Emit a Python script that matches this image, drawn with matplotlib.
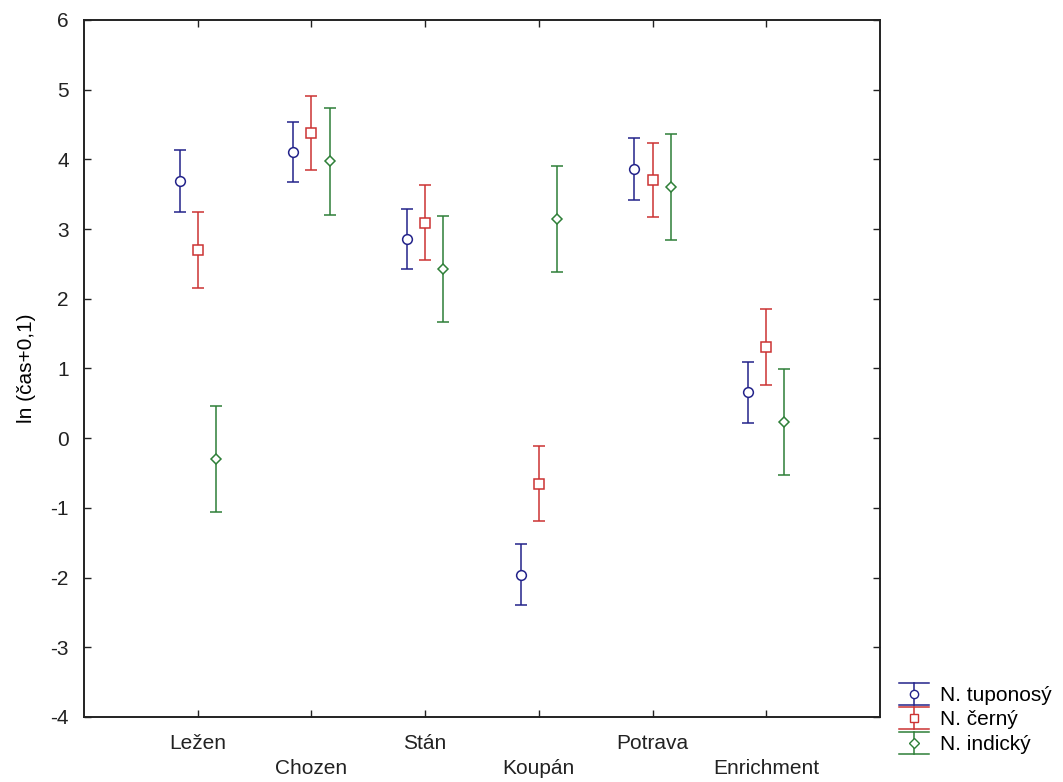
import matplotlib
matplotlib.use("Agg")
import matplotlib.pyplot as plt
from matplotlib.legend_handler import HandlerBase
from matplotlib.lines import Line2D
from matplotlib.transforms import ScaledTranslation
import numpy as np

plt.rcParams['font.family'] = ['Liberation Sans', 'DejaVu Sans']
plt.rcParams['axes.unicode_minus'] = False

categories = ["Ležen", "Chozen", "Stán", "Koupán", "Potrava", "Enrichment"]
series_names = ["N. tuponosý", "N. černý", "N. indický"]

# means of ln(time + 0.1) and half-widths of the confidence intervals
mean_tuponosy = [3.69, 4.11, 2.86, -1.96, 3.86, 0.66]
ci_tuponosy = [0.44, 0.43, 0.43, 0.44, 0.44, 0.44]
mean_cerny = [2.70, 4.38, 3.09, -0.65, 3.71, 1.31]
ci_cerny = [0.54, 0.53, 0.54, 0.54, 0.53, 0.54]
mean_indicky = [-0.30, 3.97, 2.43, 3.15, 3.60, 0.23]
ci_indicky = [0.76, 0.77, 0.76, 0.76, 0.76, 0.76]

colors = ["#23238a", "#cc3333", "#2e7f38"]
markers = ["o", "s", "D"]
msizes = [7.0, 7.2, 5.6]
offsets = [-0.16, 0.0, 0.16]

fig = plt.figure(figsize=(10.63, 7.82), dpi=100)
ax = fig.add_axes([84 / 1063, 1 - 717 / 782, 796 / 1063, 697 / 782])

x = np.arange(1, len(categories) + 1)
means = [mean_tuponosy, mean_cerny, mean_indicky]
cis = [ci_tuponosy, ci_cerny, ci_indicky]

handles = []
for m, c, col, mk, ms, off, name in zip(means, cis, colors, markers, msizes,
                                         offsets, series_names):
    ax.errorbar(x + off, m, yerr=c, fmt=mk, color=col, mfc="white", mec=col,
                ms=ms, mew=1.1, elinewidth=1.1, capsize=4.2, capthick=1.1,
                ecolor=col, zorder=3)
    handles.append(Line2D([], [], color=col, marker=mk, mfc="white", mec=col,
                          ms=ms * 0.85, mew=1.0, lw=1.1, label=name))


class ErrorBarKey(HandlerBase):
    def create_artists(self, legend, orig, xdescent, ydescent, width, height,
                       fontsize, trans):
        col = orig.get_color()
        top = height + 1.5 - ydescent
        bot = -ydescent - 1.5
        xm = width / 2 - xdescent
        arts = [
            Line2D([-xdescent, width - xdescent], [top, top], color=col, lw=1.1),
            Line2D([-xdescent, width - xdescent], [bot, bot], color=col, lw=1.1),
            Line2D([xm, xm], [bot, top], color=col, lw=1.1),
            Line2D([xm], [(top + bot) / 2], color=col, marker=orig.get_marker(),
                   mfc="white", mec=col, ms=orig.get_markersize(), mew=1.0),
        ]
        for a in arts:
            a.set_transform(trans)
        return arts


ax.set_xlim(0, 7)
ax.set_ylim(-4, 6)
ax.set_yticks(np.arange(-4, 7, 1))
ax.set_xticks(x)
ax.set_xticklabels(categories)
ax.tick_params(direction="in", length=5, width=1.0, top=True, right=True,
               labelsize=15, pad=12, colors="#222222")
ax.tick_params(axis="y", pad=11)
for i, lab in enumerate(ax.get_xticklabels()):
    if i % 2 == 1:
        lab.set_transform(lab.get_transform()
                          + ScaledTranslation(0, -0.25, fig.dpi_scale_trans))
for s in ax.spines.values():
    s.set_linewidth(1.4)
    s.set_color("#222222")

ax.set_ylabel("ln (čas+0,1)", fontsize=15, labelpad=10)

fig.legend(handles=handles, handler_map={Line2D: ErrorBarKey()},
           loc="upper left", bbox_to_anchor=(899 / 1063, 1 - 685 / 782),
           frameon=False, fontsize=15, borderpad=0, borderaxespad=0,
           handlelength=1.45, handleheight=0.95, handletextpad=0.5,
           labelspacing=0.2)

fig.savefig("out.png", dpi=100)
